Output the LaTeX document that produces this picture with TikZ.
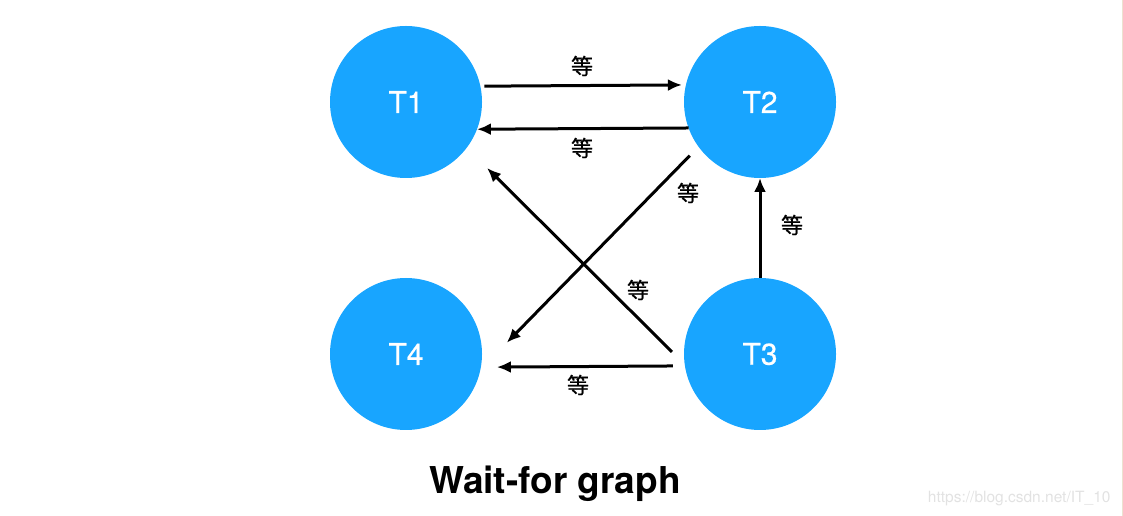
\documentclass[tikz,border=0pt]{standalone}
\usepackage{fontspec}
\setmainfont{TeX Gyre Heros}
\newfontfamily\cjk[FakeBold=0.8]{Noto Sans CJK SC}
\newfontfamily\procfont[FakeBold=0.5]{TeX Gyre Heros}
\usetikzlibrary{arrows.meta}
\definecolor{procblue}{RGB}{24,165,255}
\definecolor{markgray}{RGB}{226,226,226}
\definecolor{edgebeige}{RGB}{236,226,208}
\begin{document}
\begin{tikzpicture}[x=1pt,y=1pt,
    proc/.style={circle,fill=procblue,draw=none,minimum size=152pt,inner sep=0pt,outer sep=0pt,
      text=white,font=\procfont\fontsize{30}{36}\selectfont},
    wait/.style={line width=3pt,-{Latex[length=14pt,width=12pt]}},
    lbl/.style={font=\cjk\fontsize{22}{26}\selectfont,inner sep=0pt}]
    \useasboundingbox (0,0) rectangle (1123,516);

    % Transactions
    \node[proc] (T1) at (406,414) {T1};
    \node[proc] (T2) at (760,414) {T2};
    \node[proc] (T3) at (760,162) {T3};
    \node[proc] (T4) at (406,162) {T4};

    % Wait-for edges
    \draw[wait,shorten <=4pt,shorten >=4pt] (T1.12.9) -- (T2.167.1);
    \draw[wait] (T2.200.8) -- (T1.339.2);
    \draw[wait,shorten <=12.5pt,shorten >=37.8pt] (T2.216.4) -- (T4.348.6);
    \draw[wait,shorten <=18pt,shorten >=28.7pt] (T3.188.2) -- (T1.323);
    \draw[wait,shorten <=12pt,shorten >=16pt] (T3.189.1) -- (T4.350.9);
    \draw[wait] (T3.north) -- (T2.south);

    % Edge labels
    \node[lbl] (w12) at (582,450) {等};
    \node[lbl] (w21) at (582,368) {等};
    \node[lbl] (w24) at (688,323) {等};
    \node[lbl] (w31) at (638,226) {等};
    \node[lbl] (w34) at (578,131) {等};
    \node[lbl] (w32) at (792,291) {等};

    % Caption
    \node[font=\bfseries\fontsize{37}{44}\selectfont] (cap) at (555,32) {Wait-for graph};

    % Watermark and page edge
    \node[text=markgray,font=\fontsize{15.5}{18}\selectfont,anchor=east] (mark) at (1114,17) {https://blog.csdn.net/IT\_10};
    \draw[edgebeige,line width=1pt] (1122,0) -- (1122,516);
\end{tikzpicture}
\end{document}
